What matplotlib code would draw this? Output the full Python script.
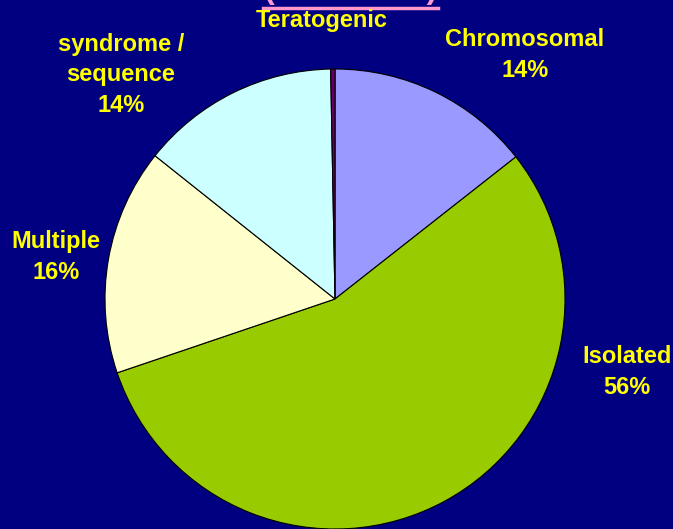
import matplotlib
matplotlib.use('Agg')
import matplotlib.pyplot as plt
from matplotlib.lines import Line2D

# data, clockwise from the top
categories = ['Chromosomal', 'Isolated', 'Multiple', 'syndrome /\nsequence', 'Teratogenic']
values = [14.4, 55.4, 15.9, 14.0, 0.3]
pct_labels = ['14%', '56%', '16%', '14%', '']
colors = ['#9999FF', '#99CC00', '#FFFFCC', '#CCFFFF', '#660066']
title = '(1995-2006)'

W, H = 673, 529
bg = '#000080'
yellow = '#FFFF00'
pink = '#FF99CC'

plt.rcParams['font.family'] = ['Liberation Sans', 'DejaVu Sans']

fig = plt.figure(figsize=(W / 100, H / 100), dpi=100, facecolor=bg)

# pie centre (335, 299) px, radius 230 px
cx, cy, r = 335, 299, 230
ax = fig.add_axes([(cx - r) / W, (H - cy - r) / H, 2 * r / W, 2 * r / H])
ax.set_facecolor(bg)
ax.pie(values, colors=colors, startangle=90, counterclock=False,
       wedgeprops=dict(edgecolor='black', linewidth=0.8))
ax.set_xlim(-1, 1)
ax.set_ylim(-1, 1)
ax.axis('off')

def px(x, y):
    return x / W, 1 - y / H

# slice labels in pixel positions
label_pos = [(525, 55), (627, 372), (56, 257), (121, 75), (322, 20)]
for cat, pct, (x, y) in zip(categories, pct_labels, label_pos):
    txt = cat + ('\n' + pct if pct else '')
    fig.text(*px(x, y), txt, color=yellow, fontsize=17, fontweight='bold',
             ha='center', va='center', linespacing=1.4)

# title, mostly cut off at the top as in the slide
fig.text(*px(351, 5), title, color=pink, fontsize=23, fontweight='bold',
         ha='center', va='bottom')
fig.add_artist(Line2D([263 / W, 438 / W], [1 - 7.5 / H, 1 - 7.5 / H],
                      color=pink, linewidth=2.5, transform=fig.transFigure))

fig.savefig('out.png', dpi=100, facecolor=bg)
